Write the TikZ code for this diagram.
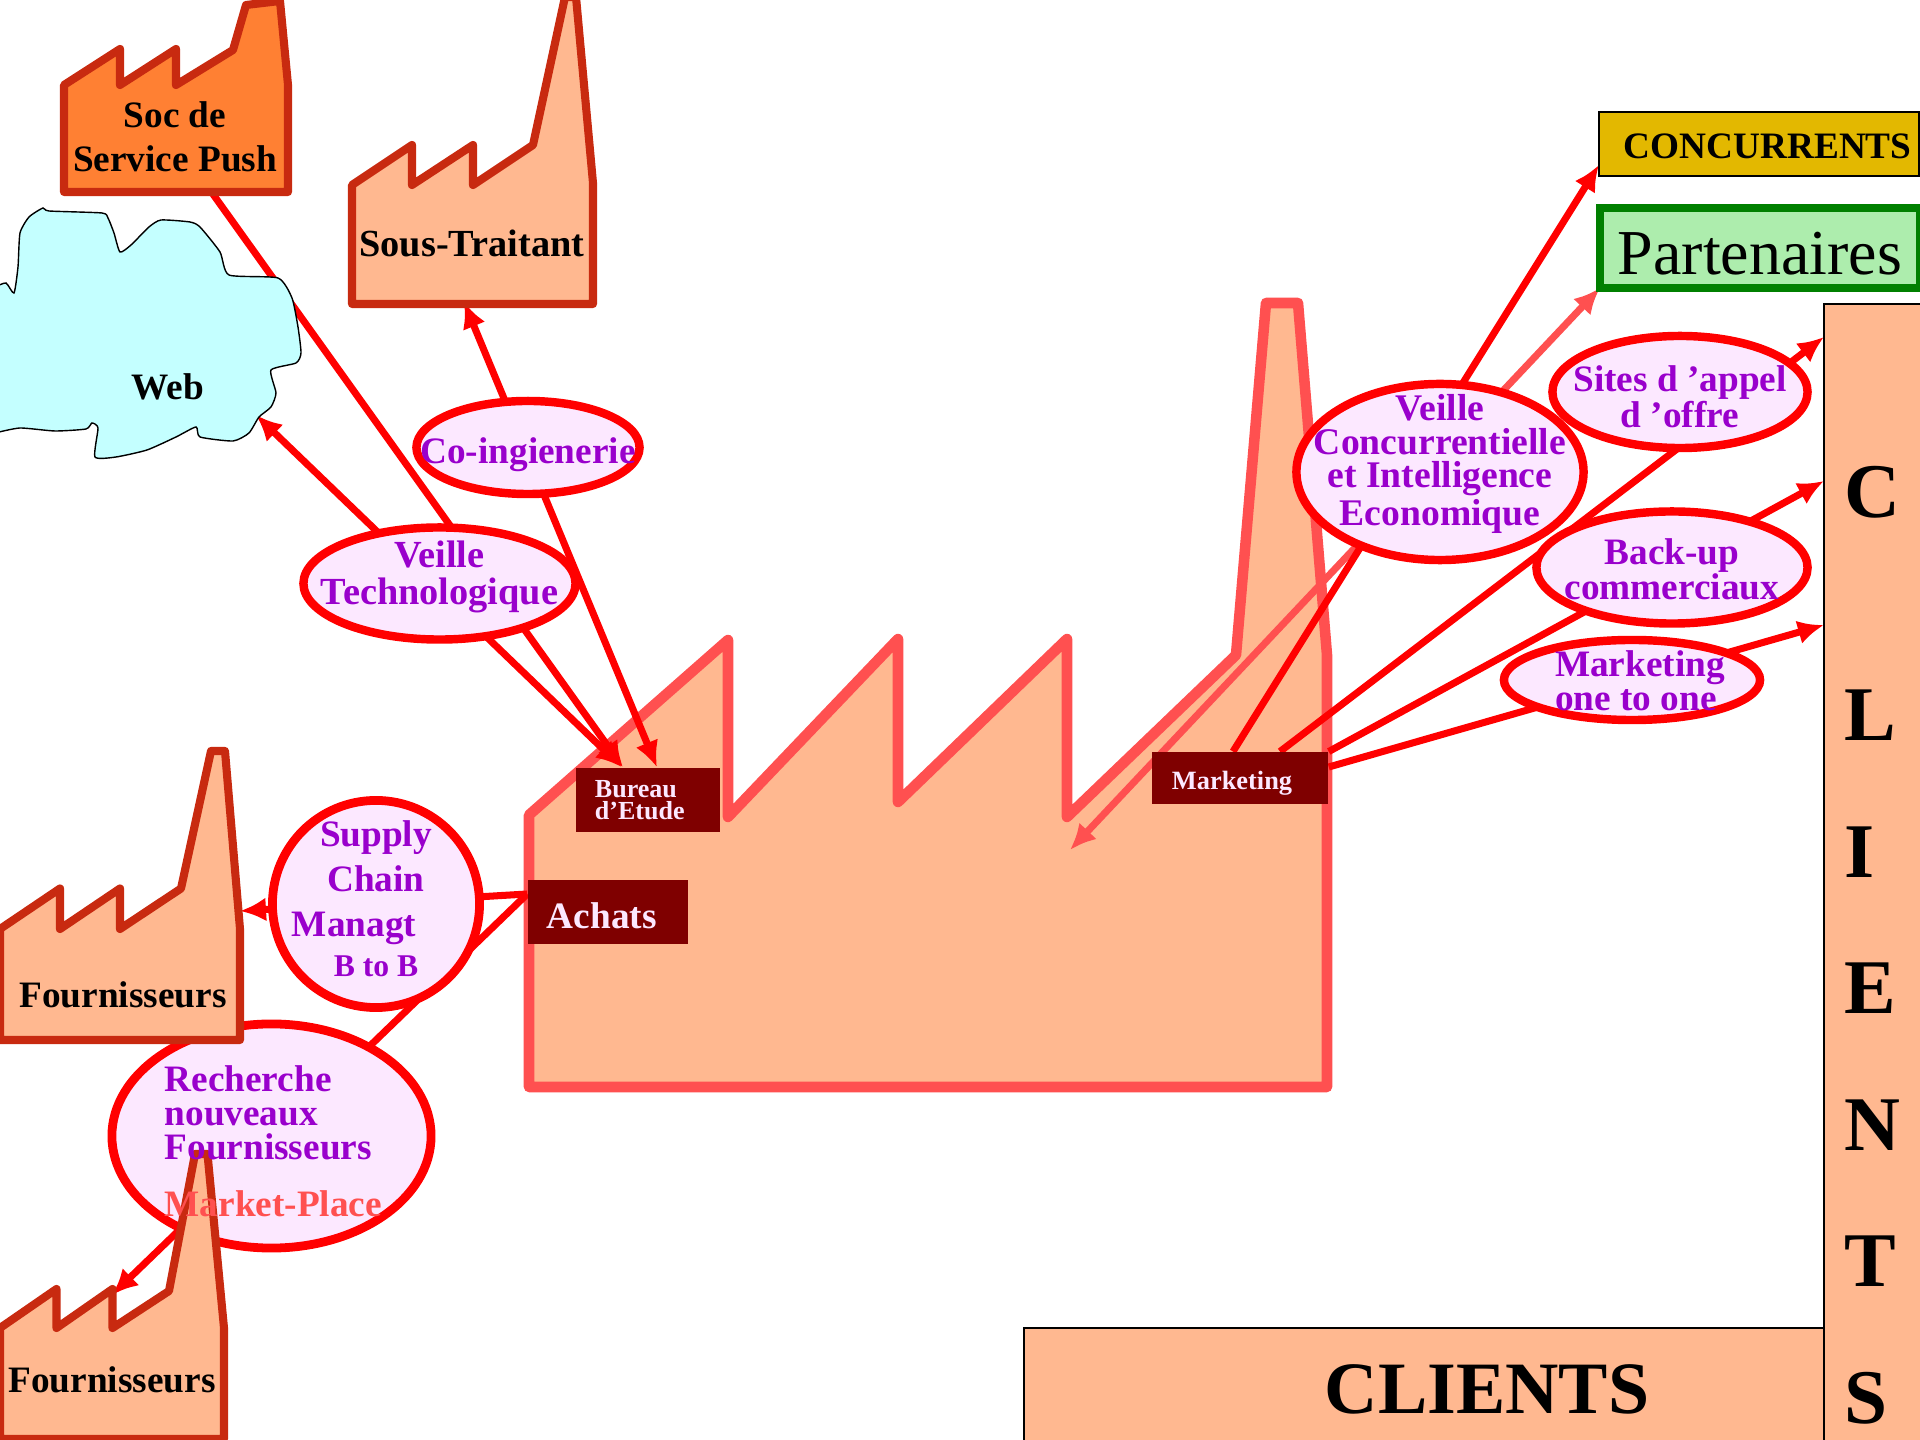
\documentclass[tikz,border=0pt]{standalone}
\usepackage{fontspec}
\setmainfont{Liberation Serif}
\usepackage{xcolor}
\usepackage{tikz}
\usetikzlibrary{shapes,arrows.meta}
\definecolor{factoryred}{HTML}{C82A10}
\definecolor{factoryfill}{HTML}{FFB890}
\definecolor{pushfill}{HTML}{FF8033}
\definecolor{mainred}{HTML}{FF5050}
\definecolor{bubblefill}{HTML}{FCE8FF}
\definecolor{bubbletext}{HTML}{9900CC}
\definecolor{darkbrown}{HTML}{7F0000}
\definecolor{webfill}{HTML}{C4FFFF}
\definecolor{goldfill}{HTML}{E3B800}
\definecolor{greenfill}{HTML}{ADEDAD}
\definecolor{greenline}{HTML}{008000}

\begin{document}
\begin{tikzpicture}[x=0.01cm, y=-0.01cm, >={Latex[length=.26cm,width=.24cm]}]
\tikzset{factory/.style = {draw=factoryred, line width=2.3pt, fill=factoryfill,
  line join=round},
  bubble/.style = {ellipse, draw=red, line width=2.4pt, fill=bubblefill,
  inner sep=0pt},
  boldtext/.style = {font=\fontsize{10.6}{#1}\selectfont\bfseries, inner sep=0pt,
  align=center},
  bubblelabel/.style = {boldtext=#1, text=bubbletext},
  brownbox/.style = {rectangle, fill=darkbrown, text=bubblefill, inner xsep=0pt},
  arrowline/.style = {draw=red, line width=2pt}}
\pgfdeclarelayer{background}
\pgfsetlayers{background,main}
\useasboundingbox (0,0) rectangle (1920,1440);

  \coordinate (socfoot) at (210,190);
  \coordinate (sousfoot) at (464,302);
  \coordinate (webedge) at (256,415);
  \coordinate (fourone) at (240,911);
  \coordinate (fourtwo) at (112,1295);
  \coordinate (factorynotch) at (1070,850);

  % suppliers and partners on the left
  \draw[factory, fill=pushfill] (64,85) -- (120,49) -- (120,85) -- (176,49)
    -- (176,85) -- (233,50) -- (246,5) -- (280,1) -- (288,85) -- (288,192)
    -- (64,192) -- cycle;
  \node[boldtext=12.5] (socpush) at (175,137) {Soc de\\Service Push};

  \draw[factory] (352,185) -- (412,145) -- (412,185) -- (473,145) -- (473,185)
    -- (533,145) -- (565,-3) -- (576,-3) -- (593,183) -- (593,304) -- (352,304)
    -- cycle;
  \node[boldtext=12, font=\fontsize{10.9}{12}\selectfont\bfseries]
    (soustraitant) at (472,243) {Sous-Traitant};

  \draw[black, line width=.4pt, fill=webfill] plot[smooth, tension=.35]
    coordinates {(-5,287) (6,283) (14,293) (18,267) (20,233) (29,217) (43,208)
    (49,211) (102,213) (108,218) (114,233) (120,252) (131,245) (149,227)
    (161,220) (190,222) (200,227) (220,252) (229,275) (278,278) (292,298)
    (298,327) (301,353) (296,363) (271,370) (276,393) (271,407) (259,417)
    (249,433) (233,441) (200,437) (196,427) (176,437) (147,450) (116,457)
    (95,457) (98,428) (92,423) (86,429) (55,431) (20,428) (-5,433)} -- cycle;
  \node[boldtext=12] (web) at (168,387) {Web};

  \node[bubble, minimum width=2.72cm, minimum height=1.12cm,
    label={[bubblelabel=10.5, font=\fontsize{10.9}{10.5}\selectfont\bfseries,
    yshift=.07cm]center:Veille\\Technologique}]
    (veilletechno) at (439.5,583.5) {};
  \node[bubble, minimum width=2.23cm, minimum height=.93cm,
    label={[bubblelabel=10.5, yshift=-.07cm]center:Co-ingienerie}]
    (coingenierie) at (528,447.5) {};

  \node[bubble, line width=2.5pt, minimum width=2.07cm, minimum height=2.07cm,
    label={[bubblelabel=12.8, yshift=.05cm]center:Supply\\Chain\\Managt\kern 12.5pt\\[-1.5pt]
    {\fontsize{9}{12.8}\selectfont B to B}}]
    (supplychain) at (376,904) {};

  \node[bubble, line width=2.5pt, minimum width=3.19cm, minimum height=2.24cm]
    (recherche) at (271.5,1136) {};

  \draw[factory] (0,929) -- (60,888.5) -- (60,929) -- (120,888.5) -- (120,929)
    -- (181,888.5) -- (211,751) -- (225,751) -- (240,929) -- (240,1040)
    -- (0,1040) -- cycle;
  \node[boldtext=12] (fournisseursa) at (123,995) {Fournisseurs};

  \draw[factory] (0,1328) -- (56.5,1289) -- (56.5,1328) -- (112.5,1289)
    -- (112.5,1328) -- (169,1291) -- (195,1154) -- (207.5,1154) -- (224,1328)
    -- (224,1439) -- (0,1439) -- cycle;
  \node[boldtext=12] (fournisseursb) at (112,1380) {Fournisseurs};

  \node[bubblelabel=9.6, align=left, anchor=west] (recherchetext)
    at (164,1113) {Recherche\\nouveaux\\Fournisseurs};
  \node[boldtext=12, text=mainred, anchor=west] (marketplace)
    at (164,1204) {Market-Place};

  % the firm and its services
  \node[brownbox, minimum width=1.44cm, minimum height=.64cm, text width=1.06cm,
    align=left, font=\fontsize{7.4}{6.3}\selectfont\bfseries]
    (bureau) at (648,800) {Bureau\\d’Etude};
  \node[brownbox, minimum width=1.6cm, minimum height=.645cm, text width=1.22cm,
    align=left, font=\fontsize{10.6}{12}\selectfont\bfseries]
    (achats) at (608,912) {\raisebox{-.037cm}[\height][\depth]{Achats}};
  \node[brownbox, minimum width=1.76cm, minimum height=.515cm, text width=1.36cm,
    align=left, font=\fontsize{7.5}{9}\selectfont\bfseries]
    (marketing) at (1240,778) {\raisebox{-.05cm}[\height][\depth]{Marketing}};

  % competitors, partners, clients
  \node[rectangle, draw=black, line width=.6pt, fill=goldfill, outer sep=0pt,
    minimum width=3.2cm, minimum height=.64cm, inner xsep=0pt, text width=3.05cm,
    align=right, font=\fontsize{10.6}{12}\selectfont\bfseries]
    (concurrents) at (1759,144) {\raisebox{-.025cm}[\height][\depth]{CONCURRENTS}};
  \node[rectangle, draw=greenline, line width=2.3pt, fill=greenfill, outer sep=0pt,
    minimum width=3.2cm, minimum height=.8cm, inner sep=0pt,
    font=\fontsize{18.2}{20}\selectfont]
    (partenaires) at (1760,248) {\raisebox{-.06cm}[\height][\depth]{Partenaires}};

  \node[rectangle, draw=black, line width=.6pt, fill=factoryfill, outer sep=0pt,
    minimum width=8cm, minimum height=1.2cm,
    label={[boldtext=24, font=\fontsize{21}{24}\selectfont\bfseries,
    xshift=.63cm, yshift=-.01cm]center:CLIENTS}]
    (clientsbas) at (1424,1388) {};
  \node[rectangle, draw=black, line width=.6pt, fill=factoryfill, outer sep=0pt,
    minimum width=1.06cm, minimum height=11.46cm, label={[boldtext=38.8, align=left,
    font=\fontsize{22}{38.8}\selectfont\bfseries, xshift=-.05cm, yshift=-.68cm]
    center:C\\[24.8pt]L\\I\\E\\N\\T\\S}]
    (clientsdroite) at (1877,877) {};

  \node[bubble, minimum width=2.55cm, minimum height=1.12cm,
    label={[bubblelabel=10.2, yshift=-.05cm]center:Sites d ’appel\\d ’offre}]
    (sitesappel) at (1680,392) {};
  \node[bubble, minimum width=2.71cm, minimum height=1.12cm,
    label={[bubblelabel=10, yshift=-.02cm]center:Back-up\\commerciaux}]
    (backup) at (1672,567.5) {};
  \node[bubble, minimum width=2.56cm, minimum height=.8cm,
    label={[bubblelabel=9.7, align=left, xshift=.08cm, yshift=-.01cm]center:Marketing\\one to one}]
    (onetoone) at (1632,680) {};
  \node[bubble, minimum width=2.87cm, minimum height=1.76cm,
    label={[bubblelabel=9.6, font=\fontsize{10.7}{9.6}\selectfont\bfseries, yshift=.08cm]
    center:Veille\\Concurrentielle\\et Intelligence\\Economique}]
    (veilleconc) at (1440,472) {};

  \begin{pgfonlayer}{background}
    \draw[line width=3pt, draw=mainred, fill=factoryfill, line join=round]
      (529,815) -- (728,640) -- (728,817) -- (898,639) -- (898,802) -- (1067,639)
      -- (1067,817) -- (1236,655) -- (1266,303) -- (1298,303) -- (1327,655)
      -- (1327,1087) -- (529,1087) -- cycle;

    \draw[arrowline, ->] (socfoot) -- (bureau.north -| 623,0);
    \draw[arrowline, <->] (webedge) -- (bureau.north -| 622,0);
    \draw[arrowline, <->] (sousfoot) -- (bureau.north -| 657,0);
    \draw[arrowline, ->] (achats.west |- 0,894) -- (fourone);
    \draw[arrowline, ->] (achats.west |- 0,894) -- (fourtwo);

    \draw[arrowline, draw=mainred, fill=mainred, <->] (factorynotch)
      -- (partenaires.south west);
    \draw[arrowline, ->] (marketing.north -| 1233,0) -- (concurrents.west |- 0,165);
    \draw[arrowline, ->] (marketing.north -| 1280,0)
      -- (clientsdroite.west |- 0,337);
    \draw[arrowline, ->] (marketing.north east)
      -- (clientsdroite.west |- 0,481);
    \draw[arrowline, ->] (marketing.east |- 0,767)
      -- (clientsdroite.west |- 0,625);
  \end{pgfonlayer}

\end{tikzpicture}
\end{document}
